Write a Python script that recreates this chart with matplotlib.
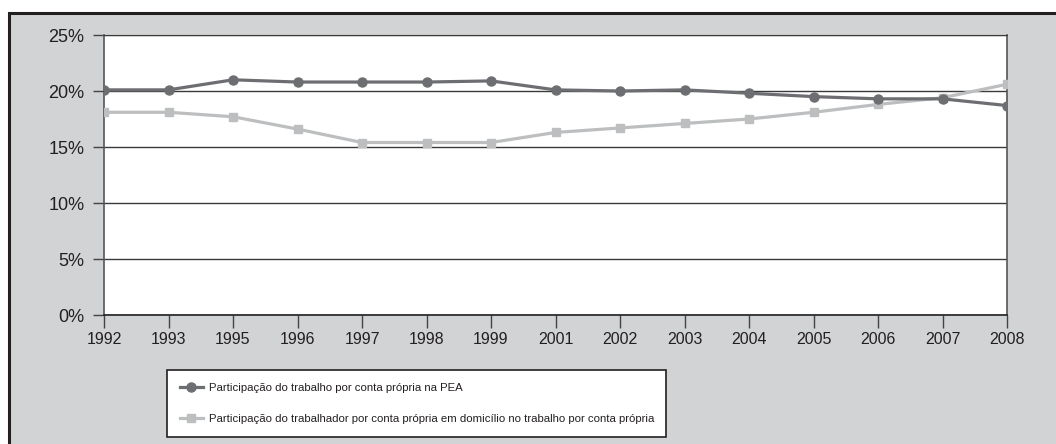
import matplotlib.pyplot as plt
import matplotlib.patches as mpatches
from matplotlib.ticker import FuncFormatter

years = ['1992', '1993', '1995', '1996', '1997', '1998', '1999', '2001',
         '2002', '2003', '2004', '2005', '2006', '2007', '2008']
# participação do trabalho por conta própria na PEA (%)
pea = [20.1, 20.1, 21.0, 20.8, 20.8, 20.8, 20.9, 20.1,
       20.0, 20.1, 19.8, 19.5, 19.3, 19.3, 18.7]
# participação do trabalhador por conta própria em domicílio (%)
domicilio = [18.1, 18.1, 17.7, 16.6, 15.4, 15.4, 15.4, 16.3,
             16.7, 17.1, 17.5, 18.1, 18.8, 19.4, 20.6]
yticks = [0, 5, 10, 15, 20, 25]

label_pea = 'Participação do trabalho por conta própria na PEA'
label_dom = ('Participação do trabalhador por conta própria em domicílio '
             'no trabalho por conta própria')

dark = '#6d6e71'
light = '#bcbec0'
panel = '#d1d3d4'
font = ['Liberation Sans', 'DejaVu Sans']

fig = plt.figure(figsize=(10.56, 4.44), dpi=100)
fig.patch.set_facecolor('white')

# gray frame behind the chart
bg = mpatches.Rectangle((9 / 1056, -0.05), 1.2, 1 - 13 / 444 + 0.05,
                        transform=fig.transFigure, facecolor=panel,
                        edgecolor='#231f20', linewidth=2.2, zorder=-10)
fig.patches.append(bg)

ax = fig.add_axes([104 / 1056, 1 - 315 / 444, (1007 - 104) / 1056, (315 - 35) / 444])
ax.set_facecolor('white')

x = list(range(len(years)))
ax.plot(x, pea, color=dark, lw=2.3, marker='o', ms=6.5, label=label_pea, zorder=4)
ax.plot(x, domicilio, color=light, lw=2.3, marker='s', ms=6, label=label_dom, zorder=3)

ax.set_xlim(0, len(years) - 1)
ax.set_ylim(0, 25)
ax.set_xticks(x)
ax.set_xticklabels(years, family=font, fontsize=11.5)
ax.set_yticks(yticks)
ax.yaxis.set_major_formatter(FuncFormatter(lambda v, p: '%d%%' % v))
for t in ax.get_yticklabels():
    t.set_fontsize(13)
    t.set_family(font)

ax.grid(axis='y', color='#3a3a3a', lw=1)
ax.set_axisbelow(True)
ax.tick_params(axis='x', direction='out', length=9, width=1, color='#444444', pad=3,
               labelcolor='#231f20')
ax.tick_params(axis='y', direction='out', length=8, width=1, color='#444444', pad=6,
               labelcolor='#231f20')
for s in ['left', 'right']:
    ax.spines[s].set_color('#555555')
    ax.spines[s].set_linewidth(1.2)
ax.spines['top'].set_color('#3a3a3a')
ax.spines['bottom'].set_color('#222222')
ax.spines['bottom'].set_linewidth(1.2)

leg = fig.legend(loc='upper left',
                 bbox_to_anchor=(167 / 1056, 1 - 370 / 444 - 0.01, (666 - 167) / 1056, 0.01),
                 mode='expand', borderaxespad=0, frameon=True, fancybox=False,
                 framealpha=1, edgecolor='#231f20', prop={'family': font, 'size': 8.2},
                 handlelength=2.0, handletextpad=0.5, labelspacing=1.85, borderpad=1.15)
leg.get_frame().set_linewidth(1.2)
for t in leg.get_texts():
    t.set_color('#231f20')

fig.savefig('out.png', dpi=100, facecolor='white')
